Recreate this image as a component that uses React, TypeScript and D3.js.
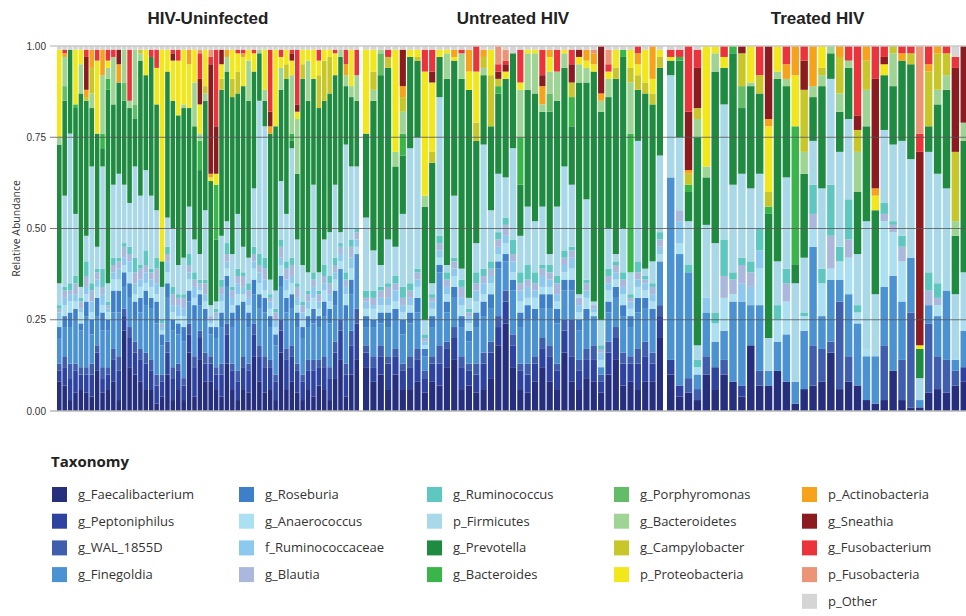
import * as d3 from "d3";

const WIDTH = 966;
const HEIGHT = 616;
const TOP = 46;
const BOTTOM = 411;

const taxa = [
  "g_Faecalibacterium", "g_Peptoniphilus", "g_WAL_1855D", "g_Finegoldia",
  "g_Roseburia", "g_Anaerococcus", "f_Ruminococcaceae", "g_Blautia",
  "g_Ruminococcus", "p_Firmicutes", "g_Prevotella", "g_Bacteroides",
  "g_Porphyromonas", "g_Bacteroidetes", "g_Campylobacter", "p_Proteobacteria",
  "p_Actinobacteria", "g_Sneathia", "g_Fusobacterium", "p_Fusobacteria", "p_Other",
];
const colors = [
  "#262f7d", "#2e43a0", "#3f5fae", "#4b92d2",
  "#3d7fc8", "#abdff2", "#8dc8ee", "#aab8dd",
  "#5ec7bf", "#a9d8e9", "#1e8b41", "#3ab54a",
  "#62bd66", "#9fd594", "#c8c72a", "#f2e71b",
  "#f7a21b", "#8b1b1e", "#ea333a", "#ed9476", "#d5d5d5",
];

const groupNames = ["HIV-Uninfected", "Untreated HIV", "Treated HIV"];
const groupSizes = [56, 41, 34];
const groupRanges = [[57, 359], [363, 663], [667, 968]];
const yTicks = [0, 0.25, 0.5, 0.75, 1];

// relative abundance (%) per sample, one array per taxon
const faecalibacterium = [
  8, 7, 3, 5, 6, 5, 4, 11, 5, 6, 8, 3, 22, 12, 10, 8, 6, 6, 2, 4, 10, 3, 6, 3, 16, 4, 14, 8, 8, 6, 4, 13, 6, 3, 6, 5, 15, 8, 5, 6, 3, 16, 6, 8, 5, 3, 6, 4, 7, 6, 3, 9, 14, 4, 10, 14,
  12, 8, 10, 6, 10, 6, 6, 8, 5, 8, 7, 12, 14, 6, 7, 5, 6, 9, 18, 24, 12, 6, 5, 8, 12, 8, 6, 16, 8, 6, 9, 8, 5, 10, 14, 7, 8, 6, 8, 8, 20,
  10, 4, 5, 3, 10, 6, 10, 8, 4, 18, 7, 7, 11, 8, 2, 6, 7, 8, 16, 6, 8, 7, 3, 2, 3, 11, 3, 1, 1, 5, 6, 5, 7, 8,
];
const peptoniphilus = [
  3, 5, 6, 6, 4, 5, 6, 5, 4, 4, 6, 8, 4, 8, 6, 6, 7, 5, 5, 4, 6, 6, 5, 4, 5, 8, 6, 5, 5, 4, 6, 8, 5, 5, 6, 6, 6, 7, 7, 6, 5, 6, 8, 7, 6, 5, 5, 7, 5, 6, 6, 7, 8, 6, 8, 10,
  4, 4, 5, 7, 5, 5, 6, 6, 4, 5, 6, 5, 6, 6, 4, 5, 7, 7, 5, 6, 6, 5, 5, 5, 5, 7, 5, 6, 7, 5, 5, 6, 3, 6, 6, 6, 5, 7, 7, 5, 6,
  4, 3, 0, 0, 0, 6, 0, 0, 3, 0, 0, 0, 0, 0, 0, 0, 0, 0, 0, 0, 0, 0, 0, 0, 0, 0, 0, 0, 0, 0, 0, 0, 0, 4,
];
const wal1855d = [
  2, 3, 4, 2, 2, 2, 3, 2, 3, 2, 3, 4, 2, 3, 3, 3, 3, 3, 3, 2, 3, 3, 2, 2, 3, 3, 2, 3, 2, 2, 3, 3, 2, 3, 3, 2, 3, 3, 3, 2, 2, 3, 3, 3, 2, 2, 3, 3, 2, 3, 3, 3, 3, 3, 4, 4,
  2, 3, 3, 2, 2, 2, 3, 3, 2, 2, 5, 2, 3, 3, 2, 3, 3, 3, 3, 3, 3, 2, 3, 2, 3, 3, 2, 3, 10, 3, 3, 4, 2, 3, 3, 3, 2, 4, 4, 3, 3,
  0, 0, 4, 3, 5, 0, 4, 0, 0, 0, 4, 0, 0, 0, 0, 0, 11, 9, 3, 24, 7, 0, 0, 0, 15, 0, 11, 26, 0, 19, 9, 9, 4, 0,
];
const finegoldia = [
  7, 8, 10, 12, 10, 14, 8, 8, 10, 10, 10, 12, 6, 8, 6, 10, 13, 14, 14, 8, 12, 10, 8, 10, 6, 10, 7, 9, 6, 8, 10, 10, 10, 14, 10, 10, 8, 10, 12, 9, 8, 9, 10, 10, 10, 10, 9, 10, 9, 11, 12, 10, 14, 12, 10, 15,
  5, 8, 6, 8, 8, 8, 9, 10, 4, 8, 20, 8, 8, 8, 6, 10, 10, 9, 13, 8, 12, 10, 12, 10, 8, 10, 11, 8, 8, 8, 8, 8, 2, 8, 8, 10, 8, 10, 9, 9, 12,
  50, 36, 29, 4, 12, 7, 8, 22, 23, 11, 18, 4, 8, 13, 6, 16, 27, 9, 17, 6, 17, 17, 12, 13, 16, 26, 16, 15, 2, 5, 11, 19, 3, 10,
];
const roseburia = [
  3, 3, 4, 3, 2, 4, 4, 5, 5, 3, 6, 6, 4, 4, 5, 4, 4, 3, 6, 3, 4, 3, 3, 4, 3, 4, 3, 3, 2, 3, 4, 3, 4, 4, 5, 4, 4, 4, 4, 3, 3, 3, 4, 4, 4, 3, 3, 4, 3, 4, 4, 4, 0, 4, 4, 0,
  3, 2, 3, 4, 3, 4, 3, 4, 2, 3, 2, 3, 3, 3, 3, 4, 4, 4, 2, 2, 3, 4, 4, 3, 4, 4, 4, 3, 3, 3, 3, 0, 0, 3, 3, 3, 3, 4, 3, 3, 0,
  0, 0, 0, 0, 0, 0, 0, 0, 0, 0, 0, 0, 0, 0, 0, 0, 0, 0, 0, 0, 0, 0, 0, 0, 0, 0, 0, 0, 0, 0, 0, 0, 0, 0,
];
const anaerococcus = [
  2, 3, 3, 2, 3, 2, 2, 3, 2, 2, 3, 3, 2, 3, 2, 3, 2, 3, 2, 1, 3, 2, 2, 3, 3, 2, 1, 2, 1, 2, 3, 2, 2, 3, 2, 2, 3, 3, 2, 2, 2, 3, 2, 3, 2, 2, 2, 3, 2, 3, 2, 3, 2, 3, 3, 2,
  2, 3, 2, 2, 2, 2, 2, 3, 1, 2, 2, 2, 3, 3, 2, 3, 2, 3, 2, 3, 2, 3, 2, 3, 2, 2, 2, 2, 3, 2, 3, 1, 2, 3, 2, 3, 2, 3, 2, 2, 2,
  0, 3, 0, 2, 0, 5, 9, 2, 0, 0, 10, 0, 6, 9, 0, 4, 5, 9, 3, 5, 10, 3, 2, 0, 18, 12, 11, 0, 0, 0, 3, 0, 0, 3,
];
const ruminococcaceae = [
  2, 2, 2, 2, 1, 2, 3, 2, 3, 1, 2, 3, 2, 3, 3, 2, 3, 2, 3, 1, 3, 2, 3, 2, 2, 3, 1, 2, 1, 1, 2, 2, 2, 3, 2, 2, 2, 3, 3, 2, 2, 2, 3, 2, 2, 2, 2, 3, 2, 2, 2, 2, 2, 2, 3, 2,
  2, 1, 2, 2, 3, 2, 2, 2, 1, 2, 2, 2, 2, 2, 2, 3, 3, 2, 2, 2, 3, 3, 3, 2, 3, 2, 2, 2, 3, 2, 2, 1, 2, 2, 2, 2, 2, 2, 2, 2, 2,
  0, 6, 0, 0, 4, 0, 0, 0, 5, 5, 5, 0, 0, 0, 0, 0, 0, 0, 0, 0, 0, 0, 0, 0, 0, 0, 0, 0, 0, 0, 0, 0, 0, 0,
];
const blautia = [
  1, 2, 1, 3, 2, 3, 3, 2, 2, 1, 2, 2, 3, 2, 3, 3, 2, 2, 4, 1, 2, 3, 2, 3, 2, 2, 1, 3, 1, 1, 2, 2, 2, 2, 3, 2, 2, 2, 3, 1, 2, 3, 3, 3, 3, 2, 2, 2, 2, 2, 3, 2, 2, 2, 3, 2,
  1, 2, 2, 3, 2, 2, 2, 2, 1, 1, 2, 2, 2, 3, 1, 2, 2, 2, 2, 3, 2, 2, 2, 2, 2, 2, 3, 2, 2, 2, 2, 1, 1, 2, 2, 2, 1, 2, 1, 2, 2,
  0, 3, 0, 0, 0, 0, 6, 4, 5, 4, 0, 0, 0, 5, 0, 0, 4, 0, 9, 0, 5, 0, 0, 0, 2, 2, 4, 0, 0, 4, 2, 0, 0, 0,
];
const ruminococcus = [
  1, 1, 2, 2, 1, 4, 2, 1, 5, 1, 2, 1, 1, 2, 4, 1, 4, 1, 3, 1, 2, 2, 1, 1, 3, 2, 1, 1, 0, 1, 2, 3, 1, 2, 1, 2, 2, 3, 3, 1, 1, 2, 2, 2, 1, 1, 1, 2, 1, 3, 2, 2, 1, 2, 2, 1,
  2, 2, 1, 1, 2, 3, 2, 1, 1, 1, 2, 2, 1, 2, 1, 3, 2, 2, 2, 2, 4, 3, 4, 3, 1, 2, 2, 2, 1, 0, 1, 0, 1, 2, 1, 2, 1, 3, 1, 1, 2,
  0, 0, 2, 2, 0, 3, 10, 2, 2, 3, 6, 0, 4, 4, 0, 1, 8, 4, 14, 4, 11, 2, 0, 0, 3, 1, 3, 0, 0, 5, 4, 0, 0, 0,
];
const firmicutes = [
  6, 25, 41, 17, 3, 7, 32, 6, 28, 5, 20, 23, 16, 12, 25, 19, 22, 20, 13, 9, 8, 16, 8, 10, 13, 9, 7, 19, 3, 2, 12, 6, 9, 15, 7, 7, 16, 42, 36, 4, 5, 16, 13, 30, 12, 10, 5, 24, 5, 7, 12, 20, 3, 35, 20, 17,
  20, 11, 6, 12, 8, 20, 37, 36, 4, 3, 38, 2, 17, 3, 3, 8, 34, 14, 16, 11, 25, 10, 16, 14, 16, 3, 19, 23, 17, 1, 22, 1, 7, 11, 2, 12, 6, 33, 2, 6, 21,
  28, 20, 12, 4, 20, 19, 37, 24, 23, 20, 15, 9, 12, 25, 27, 15, 12, 22, 29, 26, 22, 14, 35, 17, 20, 21, 26, 27, 6, 33, 30, 28, 18, 13,
];
const prevotella = [
  38, 26, 23, 29, 53, 37, 16, 31, 5, 53, 22, 25, 23, 26, 13, 37, 26, 38, 29, 7, 40, 35, 41, 41, 27, 31, 23, 30, 34, 17, 40, 41, 43, 33, 44, 43, 32, 13, 7, 40, 45, 25, 37, 2, 18, 51, 47, 29, 45, 38, 38, 30, 48, 16, 19, 18,
  23, 41, 52, 47, 22, 16, 25, 21, 31, 33, 11, 51, 37, 52, 57, 28, 19, 23, 22, 27, 26, 14, 32, 35, 26, 39, 29, 27, 16, 58, 32, 63, 57, 36, 48, 47, 0, 14, 48, 43, 24,
  4, 21, 8, 57, 13, 47, 10, 36, 18, 28, 22, 34, 50, 25, 5, 23, 12, 28, 7, 11, 14, 17, 26, 23, 15, 16, 22, 26, 8, 7, 19, 27, 16, 36,
];
const bacteroides = [
  0, 0, 0, 1, 0, 0, 0, 0, 4, 3, 0, 0, 0, 0, 0, 0, 0, 0, 0, 0, 0, 0, 0, 0, 0, 0, 8, 0, 0, 15, 0, 0, 0, 0, 0, 0, 0, 0, 0, 0, 0, 0, 0, 2, 0, 0, 0, 0, 0, 0, 0, 0, 0, 0, 0, 0,
  0, 0, 0, 0, 0, 6, 0, 0, 0, 0, 0, 0, 0, 0, 0, 0, 0, 0, 2, 0, 0, 13, 0, 0, 0, 0, 0, 0, 8, 0, 0, 0, 0, 0, 0, 2, 38, 0, 0, 0, 0,
  0, 1, 2, 0, 0, 0, 0, 2, 0, 0, 0, 2, 0, 0, 38, 0, 0, 0, 0, 0, 0, 0, 0, 0, 0, 0, 0, 0, 0, 0, 0, 0, 0, 0,
];
const porphyromonas = [
  0, 4, 0, 0, 0, 0, 0, 0, 0, 0, 0, 0, 5, 0, 4, 0, 0, 0, 0, 0, 0, 0, 0, 0, 0, 0, 0, 0, 0, 0, 0, 0, 0, 0, 0, 0, 0, 0, 0, 0, 0, 0, 0, 0, 0, 0, 0, 0, 0, 0, 0, 0, 0, 0, 0, 0,
  0, 0, 6, 0, 0, 0, 0, 0, 0, 0, 0, 0, 0, 0, 0, 0, 0, 0, 0, 0, 0, 0, 0, 0, 0, 5, 0, 0, 0, 0, 0, 0, 0, 0, 0, 0, 0, 0, 0, 0, 0,
  0, 0, 0, 0, 0, 0, 0, 0, 6, 0, 0, 0, 0, 0, 0, 0, 0, 0, 0, 0, 0, 0, 0, 0, 0, 0, 0, 0, 0, 0, 0, 0, 0, 0,
];
const bacteroidetes = [
  2, 8, 0, 0, 8, 0, 4, 0, 16, 3, 13, 0, 9, 2, 15, 2, 0, 0, 0, 0, 0, 0, 0, 1, 0, 12, 2, 2, 0, 0, 0, 4, 0, 0, 0, 11, 0, 1, 3, 0, 0, 6, 0, 16, 15, 0, 11, 0, 0, 0, 0, 0, 2, 3, 3, 7,
  0, 3, 1, 0, 4, 6, 0, 0, 3, 0, 0, 7, 0, 7, 0, 0, 2, 0, 0, 0, 0, 13, 10, 11, 2, 6, 8, 4, 0, 5, 4, 0, 3, 5, 0, 0, 14, 0, 0, 0, 0,
  0, 0, 0, 5, 3, 5, 0, 0, 0, 1, 0, 0, 2, 2, 0, 6, 3, 3, 2, 5, 2, 11, 10, 0, 0, 9, 0, 0, 0, 0, 4, 4, 4, 5,
];
const campylobacter = [
  0, 0, 0, 0, 0, 1, 7, 0, 0, 0, 0, 0, 0, 0, 0, 1, 0, 0, 0, 0, 0, 0, 0, 0, 0, 0, 0, 2, 0, 0, 3, 0, 5, 6, 0, 0, 0, 0, 0, 0, 0, 0, 4, 0, 0, 4, 0, 0, 9, 11, 10, 0, 0, 0, 0, 0,
  0, 5, 0, 3, 0, 4, 0, 1, 0, 3, 0, 0, 0, 0, 0, 5, 3, 14, 2, 0, 0, 0, 0, 0, 0, 0, 0, 0, 4, 0, 0, 0, 0, 0, 3, 0, 4, 4, 3, 3, 3,
  0, 0, 3, 3, 0, 0, 0, 0, 9, 0, 5, 4, 0, 0, 0, 17, 0, 2, 0, 10, 0, 6, 8, 0, 0, 2, 0, 3, 0, 15, 10, 6, 19, 0,
];
const proteobacteria = [
  24, 0, 0, 15, 4, 0, 0, 20, 0, 2, 0, 0, 0, 0, 0, 0, 7, 0, 10, 58, 6, 11, 15, 15, 12, 9, 8, 10, 1, 3, 4, 0, 8, 5, 8, 3, 5, 0, 11, 0, 21, 3, 4, 4, 2, 4, 3, 8, 4, 3, 2, 6, 0, 0, 10, 0,
  23, 6, 0, 0, 28, 0, 2, 2, 34, 19, 2, 1, 1, 0, 5, 14, 0, 7, 0, 2, 0, 2, 1, 1, 0, 4, 0, 1, 0, 2, 2, 2, 0, 2, 5, 0, 5, 3, 9, 4, 2,
  1, 0, 0, 0, 33, 2, 3, 0, 0, 10, 0, 18, 7, 0, 14, 0, 0, 6, 0, 0, 0, 0, 0, 4, 3, 0, 0, 0, 1, 0, 0, 0, 0, 0,
];
const actinobacteria = [
  0, 1, 0, 0, 0, 2, 5, 0, 7, 0, 0, 5, 0, 0, 0, 0, 0, 0, 0, 0, 0, 0, 0, 0, 4, 0, 0, 0, 1, 0, 0, 2, 0, 0, 1, 0, 0, 0, 0, 2, 0, 0, 0, 0, 0, 0, 0, 0, 0, 0, 0, 0, 0, 3, 0, 0,
  0, 0, 0, 0, 0, 3, 0, 0, 0, 0, 0, 0, 2, 0, 6, 0, 2, 0, 0, 0, 0, 0, 0, 0, 5, 2, 0, 0, 0, 0, 3, 3, 2, 0, 0, 0, 0, 3, 0, 9, 0,
  0, 0, 1, 0, 0, 0, 0, 0, 0, 0, 0, 2, 0, 4, 8, 0, 11, 0, 0, 3, 0, 0, 4, 2, 0, 0, 2, 0, 0, 2, 2, 0, 0, 0,
];
const sneathia = [
  0, 0, 0, 0, 0, 9, 0, 0, 0, 0, 0, 4, 0, 0, 0, 0, 0, 0, 0, 0, 0, 2, 0, 0, 0, 0, 7, 0, 30, 13, 4, 0, 0, 0, 0, 0, 0, 0, 0, 4, 0, 0, 0, 2, 2, 0, 0, 0, 0, 0, 0, 0, 0, 0, 0, 0,
  0, 0, 0, 0, 0, 10, 0, 0, 0, 3, 0, 0, 0, 0, 0, 0, 0, 0, 2, 2, 0, 0, 0, 0, 3, 0, 0, 0, 5, 2, 0, 0, 13, 0, 0, 0, 0, 0, 0, 0, 0,
  0, 0, 16, 11, 0, 0, 0, 0, 2, 0, 0, 20, 0, 0, 0, 8, 0, 0, 0, 0, 0, 4, 0, 30, 2, 0, 0, 0, 53, 0, 0, 0, 23, 21,
];
const fusobacterium = [
  0, 1, 0, 0, 0, 2, 0, 3, 0, 3, 2, 0, 0, 14, 0, 0, 0, 2, 5, 0, 0, 1, 3, 0, 0, 0, 7, 0, 2, 21, 0, 0, 0, 1, 1, 0, 1, 0, 0, 17, 0, 2, 0, 1, 15, 0, 0, 0, 3, 0, 0, 1, 0, 4, 0, 7,
  0, 0, 0, 2, 0, 0, 0, 0, 6, 6, 0, 0, 0, 1, 0, 7, 0, 0, 2, 1, 0, 9, 0, 0, 7, 0, 6, 0, 4, 0, 0, 0, 0, 2, 0, 0, 0, 2, 0, 0, 0,
  2, 2, 18, 5, 0, 0, 3, 0, 0, 0, 8, 0, 0, 5, 0, 4, 0, 0, 0, 0, 4, 19, 0, 9, 3, 0, 2, 2, 5, 5, 0, 2, 3, 0,
];
const fusobacteria = [
  0, 0, 0, 0, 0, 0, 0, 0, 0, 0, 0, 0, 0, 0, 0, 0, 0, 0, 0, 0, 0, 0, 0, 0, 0, 0, 1, 0, 2, 0, 0, 0, 0, 0, 0, 0, 0, 0, 0, 0, 0, 0, 0, 0, 0, 0, 0, 0, 0, 0, 0, 0, 0, 0, 0, 0,
  0, 0, 0, 0, 0, 0, 0, 0, 0, 0, 0, 0, 0, 0, 0, 0, 0, 0, 5, 3, 0, 0, 0, 0, 0, 0, 0, 0, 0, 0, 0, 1, 0, 4, 0, 0, 0, 0, 0, 0, 0,
  0, 0, 0, 0, 0, 0, 0, 0, 0, 0, 0, 0, 0, 0, 0, 0, 0, 0, 0, 0, 0, 0, 0, 0, 0, 0, 0, 0, 24, 0, 0, 0, 0, 0,
];
const other = [
  1, 1, 1, 1, 1, 1, 1, 1, 1, 1, 1, 1, 1, 1, 1, 1, 1, 1, 1, 1, 1, 1, 1, 1, 1, 1, 1, 1, 1, 1, 1, 1, 1, 1, 1, 1, 1, 1, 1, 1, 1, 1, 1, 1, 1, 1, 1, 1, 1, 1, 1, 1, 1, 1, 1, 1,
  1, 1, 1, 1, 1, 1, 1, 1, 1, 1, 1, 1, 1, 1, 1, 0, 1, 1, 0, 1, 2, 1, 1, 1, 1, 1, 1, 1, 1, 1, 1, 1, 0, 1, 1, 1, 1, 0, 1, 0, 1,
  1, 1, 0, 1, 0, 0, 0, 0, 0, 0, 0, 0, 0, 0, 0, 0, 0, 0, 0, 0, 0, 0, 0, 0, 0, 0, 0, 0, 0, 0, 0, 0, 3, 0,
];

const seriesValues = [
  faecalibacterium, peptoniphilus, wal1855d, finegoldia, roseburia, anaerococcus,
  ruminococcaceae, blautia, ruminococcus, firmicutes, prevotella, bacteroides,
  porphyromonas, bacteroidetes, campylobacter, proteobacteria, actinobacteria,
  sneathia, fusobacterium, fusobacteria, other,
];

type Row = { [k: string]: number };

const samples: Row[] = faecalibacterium.map((_, i) => {
  const row: Row = { idx: i };
  taxa.forEach((t, k) => (row[t] = seriesValues[k][i]));
  return row;
});

const stacked = d3
  .stack<Row>()
  .keys(taxa)
  .offset(d3.stackOffsetExpand)(samples);

const groupStarts = groupSizes.map((_, g) => d3.sum(groupSizes.slice(0, g)));

const xScales = groupSizes.map((n, g) =>
  d3
    .scaleBand<number>()
    .domain(d3.range(groupStarts[g], groupStarts[g] + n))
    .range(groupRanges[g] as [number, number])
    .paddingInner(0.16)
);

const groupOf = (i: number) =>
  groupStarts.findIndex((s, g) => i >= s && i < s + groupSizes[g]);

const y = d3.scaleLinear().domain([0, 1]).range([BOTTOM, TOP]);

const legendCols = [52, 239, 427, 614, 802];
const legendRow0 = 487;
const legendStep = 26.7;

export default function App() {
  return (
    <svg
      width={WIDTH}
      height={HEIGHT}
      style={{ position: "absolute", left: 0, top: 0, background: "#fff" }}
    >
      {/* panel titles */}
      {groupNames.map((name, g) => (
        <text
          key={name}
          x={(groupRanges[g][0] + groupRanges[g][1]) / 2 + (g === 2 ? 0 : 0)}
          y={24}
          textAnchor="middle"
          fontFamily="'Liberation Sans Narrow', 'Arial Narrow', sans-serif"
          fontWeight="bold"
          fontSize={17}
          fill="#222"
        >
          {name}
        </text>
      ))}

      {/* bars */}
      {stacked.map((layer, k) => (
        <g key={layer.key} fill={colors[k]}>
          {layer.map((d, i) => {
            const g = groupOf(i);
            const x = xScales[g](i) as number;
            const h = y(d[0]) - y(d[1]);
            if (h <= 0) return null;
            return (
              <rect
                key={i}
                x={x}
                y={y(d[1])}
                width={xScales[g].bandwidth()}
                height={h}
              />
            );
          })}
        </g>
      ))}

      {/* top and bottom lines */}
      <line x1={50} x2={WIDTH} y1={y(1)} y2={y(1)} stroke="#c8c8c8" strokeWidth={1.5} />
      <line x1={50} x2={WIDTH} y1={y(0)} y2={y(0)} stroke="#b8b8b8" strokeWidth={1.5} />

      {/* grid lines */}
      {yTicks
        .filter((t) => t > 0 && t < 1)
        .map((t) => (
          <line
            key={t}
            x1={50}
            x2={WIDTH}
            y1={y(t)}
            y2={y(t)}
            stroke="#555"
            strokeWidth={0.8}
          />
        ))}

      {/* y axis labels */}
      {yTicks.map((t) => (
        <text
          key={t}
          x={46}
          y={y(t) + 3.5}
          textAnchor="end"
          fontFamily="'Liberation Sans Narrow', 'Arial Narrow', sans-serif"
          fontSize={10}
          fill="#333"
        >
          {d3.format(".2f")(t)}
        </text>
      ))}
      <text
        transform={`translate(20, ${(TOP + BOTTOM) / 2}) rotate(-90)`}
        textAnchor="middle"
        fontFamily="'Open Sans', sans-serif"
        fontSize={10.5}
        fill="#333"
      >
        Relative Abundance
      </text>

      {/* legend */}
      <text
        x={51}
        y={467}
        fontFamily="'Open Sans', sans-serif"
        fontWeight="bold"
        fontSize={15}
        fill="#222"
      >
        Taxonomy
      </text>
      {taxa.map((t, k) => {
        const col = Math.min(Math.floor(k / 4), 4);
        const row = k - col * 4;
        const x0 = legendCols[col];
        const y0 = legendRow0 + row * legendStep;
        return (
          <g key={t}>
            <rect x={x0} y={y0} width={15} height={15} fill={colors[k]} />
            <text
              x={x0 + 26}
              y={y0 + 12}
              fontFamily="'Open Sans', sans-serif"
              fontSize={13}
              fill="#333"
            >
              {t}
            </text>
          </g>
        );
      })}
    </svg>
  );
}
